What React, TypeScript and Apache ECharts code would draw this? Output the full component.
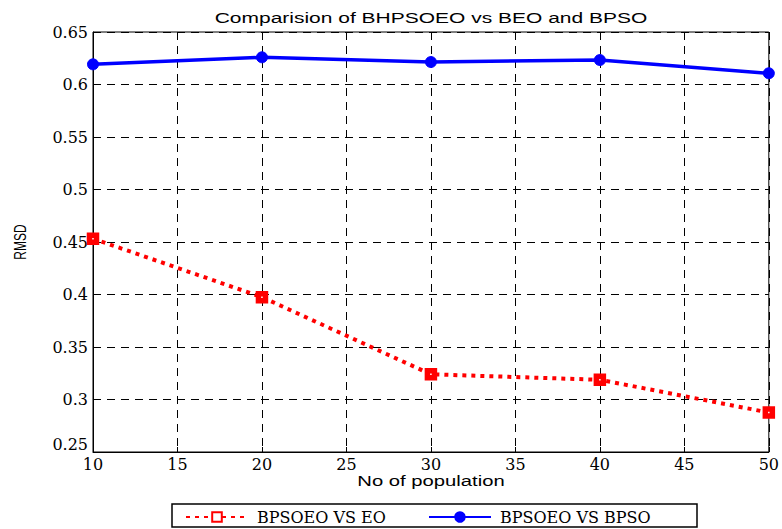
import React, { useEffect, useRef } from "react";
import * as echarts from "echarts";

const populations = [10, 20, 30, 40, 50];
const eoValues = [0.4532, 0.3975, 0.324, 0.3188, 0.2876];
const bpsoValues = [0.6192, 0.6259, 0.6214, 0.6233, 0.6107];
const seriesNames = ["BPSOEO VS EO", "BPSOEO VS BPSO"];
const titleText = "Comparision of BHPSOEO vs BEO and BPSO";
const xName = "No of population";
const yName = "RMSD";

const serif = "'DejaVu Serif', 'Liberation Serif', serif";
const sans = "'Liberation Sans', Arial, sans-serif";

export default function App() {
  const ref = useRef<HTMLDivElement>(null);
  useEffect(() => {
    if (!ref.current) return;
    const chart = echarts.init(ref.current, null, { renderer: "svg" });
    const legendCommon = {
      top: 509,
      orient: "horizontal",
      padding: 0,
      itemWidth: 62,
      itemHeight: 12,
      textStyle: { fontFamily: serif, fontSize: 16, color: "#000", padding: [0, 0, 0, 4] },
    };
    chart.setOption({
      animation: false,
      backgroundColor: "#fff",
      graphic: [
        {
          type: "text",
          x: 431,
          y: 18,
          scaleX: 1.4,
          style: {
            text: titleText,
            fontFamily: sans,
            fontSize: 15,
            fill: "#000",
            textAlign: "center",
            textVerticalAlign: "middle",
          },
        },
        {
          type: "text",
          x: 431,
          y: 481,
          scaleX: 1.35,
          style: {
            text: xName,
            fontFamily: sans,
            fontSize: 15,
            fill: "#000",
            textAlign: "center",
            textVerticalAlign: "middle",
          },
        },
        {
          type: "text",
          x: 20,
          y: 242,
          rotation: Math.PI / 2,
          scaleY: 1.3,
          style: {
            text: yName,
            fontFamily: sans,
            fontSize: 12,
            fill: "#000",
            textAlign: "center",
            textVerticalAlign: "middle",
          },
        },
        {
          type: "rect",
          shape: { x: 172, y: 504, width: 525, height: 23 },
          style: { fill: "none", stroke: "#000", lineWidth: 1.5 },
        },
      ],
      grid: {
        left: 93,
        right: 12,
        top: 32,
        bottom: 77,
        show: true,
        borderColor: "#000",
        borderWidth: 1,
        backgroundColor: "transparent",
      },
      legend: [
        { ...legendCommon, left: 185, data: [seriesNames[0]] },
        { ...legendCommon, left: 428, data: [seriesNames[1]] },
      ],
      xAxis: {
        type: "value",
        min: 10,
        max: 50,
        interval: 5,
        axisLine: { show: true, lineStyle: { color: "#000" } },
        axisTick: { show: true, inside: true, length: 5, lineStyle: { color: "#000" } },
        axisLabel: { fontFamily: serif, fontSize: 16, color: "#000", margin: 4 },
        splitLine: { show: true, lineStyle: { color: "#000", type: [8, 6], width: 1 } },
      },
      yAxis: {
        type: "value",
        min: 0.25,
        max: 0.65,
        interval: 0.05,
        axisLine: { show: true, lineStyle: { color: "#000" } },
        axisTick: { show: true, inside: true, length: 5, lineStyle: { color: "#000" } },
        axisLabel: {
          fontFamily: serif,
          fontSize: 16,
          color: "#000",
          margin: 5,
          verticalAlignMinLabel: "bottom",
          formatter: (v: number) => String(parseFloat(v.toFixed(2))),
        },
        splitLine: { show: true, lineStyle: { color: "#000", type: [8, 6], width: 1 } },
      },
      series: [
        {
          name: seriesNames[0],
          type: "line",
          data: populations.map((p, i) => [p, eoValues[i]]),
          symbol: "rect",
          symbolSize: 7,
          lineStyle: { color: "#ff0000", width: 4, type: [4, 5] },
          itemStyle: { color: "#ffffff", borderColor: "#ff0000", borderWidth: 5.5 },
          z: 3,
        },
        {
          name: seriesNames[1],
          type: "line",
          data: populations.map((p, i) => [p, bpsoValues[i]]),
          symbol: "circle",
          symbolSize: 11,
          lineStyle: { color: "#0000ff", width: 3.5 },
          itemStyle: { color: "#0000ff", borderColor: "#0000ff", borderWidth: 1 },
          z: 3,
        },
      ],
    });
    return () => chart.dispose();
  }, []);
  return <div ref={ref} style={{ width: 782, height: 529, position: "absolute", left: 0, top: 0 }} />;
}
